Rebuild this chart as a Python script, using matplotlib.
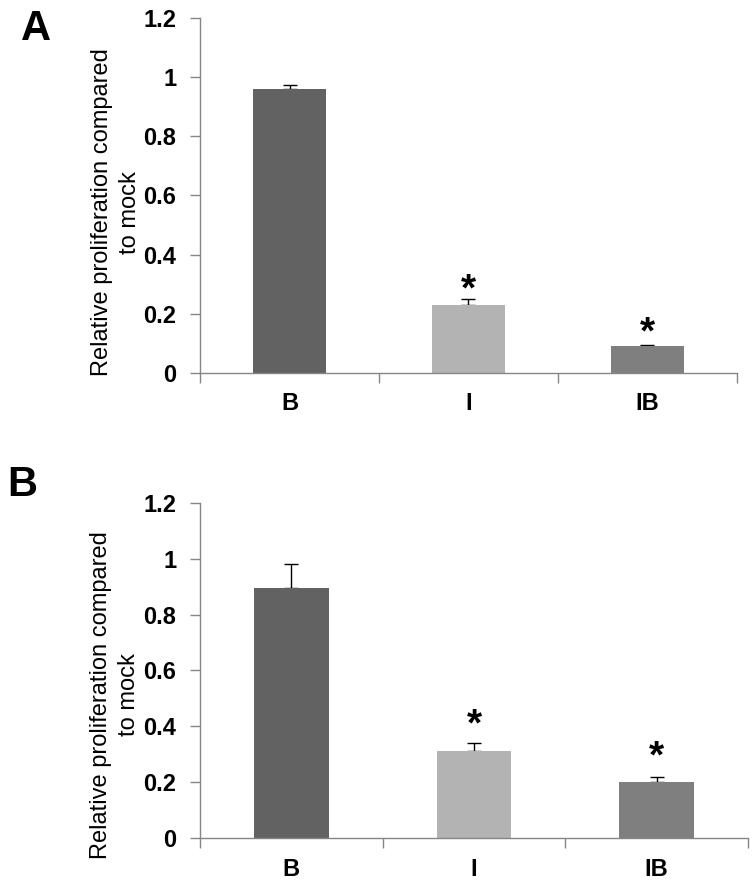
import matplotlib
matplotlib.use("Agg")
import matplotlib.pyplot as plt
import numpy as np

plt.rcParams['font.family'] = ['Liberation Sans', 'DejaVu Sans']

# data
groups = ["B", "I", "IB"]
colors = ["#626262", "#b3b3b3", "#7f7f7f"]

vals_a = [0.959, 0.230, 0.092]
errs_a = [0.013, 0.020, 0.003]
stars_a = [None, 0.304, 0.159]

vals_b = [0.894, 0.312, 0.201]
errs_b = [0.088, 0.029, 0.018]
stars_b = [None, 0.430, 0.316]

ylab = "Relative proliferation compared\nto mock"
axcol = "#868686"
star_size = 28

fig = plt.figure(figsize=(7.52, 8.91), dpi=100)
ax_a = fig.add_axes([0.266, 0.5814, 0.714, 0.3984])
ax_b = fig.add_axes([0.266, 0.0592, 0.7287, 0.3766])


def draw(ax, vals, errs, stars, label_y):
    x = np.arange(len(groups))
    # error bars behind the bars so only the upper half shows
    ax.errorbar(x, vals, yerr=[np.zeros(len(errs)), errs], fmt="none",
                ecolor="black", elinewidth=1, capsize=5, capthick=1, zorder=1)
    ax.bar(x, vals, width=0.41, color=colors, zorder=2)
    for xi, s in zip(x, stars):
        if s is not None:
            ax.annotate("*", (xi, s), xytext=(0, -0.44 * star_size),
                        textcoords="offset points", ha="center",
                        va="baseline", fontsize=star_size, fontweight="bold")
    ax.set_xlim(-0.5, 2.5)
    ax.set_ylim(0, 1.2)
    ax.set_yticks(np.arange(0, 1.21, 0.2))
    ax.set_yticklabels(["0", "0.2", "0.4", "0.6", "0.8", "1", "1.2"],
                       fontsize=17, fontweight="bold")
    ax.set_xticks(x)
    ax.set_xticklabels(groups, fontsize=17, fontweight="bold")
    ax.set_xticks([-0.5, 0.5, 1.5, 2.5], minor=True)
    ax.tick_params(axis="x", which="major", length=0, pad=14)
    ax.tick_params(axis="x", which="minor", length=7, color=axcol, width=1)
    ax.tick_params(axis="y", length=7, color=axcol, width=1, pad=10)
    for side in ["top", "right"]:
        ax.spines[side].set_visible(False)
    for side in ["left", "bottom"]:
        ax.spines[side].set_color(axcol)
        ax.spines[side].set_linewidth(1)
    ax.text(-0.156, label_y, ylab, transform=ax.transAxes, rotation=90,
            ha="center", va="center", multialignment="center", fontsize=17,
            linespacing=1.35)


draw(ax_a, vals_a, errs_a, stars_a, 0.453)
draw(ax_b, vals_b, errs_b, stars_b, 0.427)

fig.text(0.048, 0.967, "A", fontsize=30, fontweight="bold", ha="center", va="center")
fig.text(0.029, 0.456, "B", fontsize=30, fontweight="bold", ha="center", va="center")

fig.savefig("out.png", dpi=100, facecolor="white")
